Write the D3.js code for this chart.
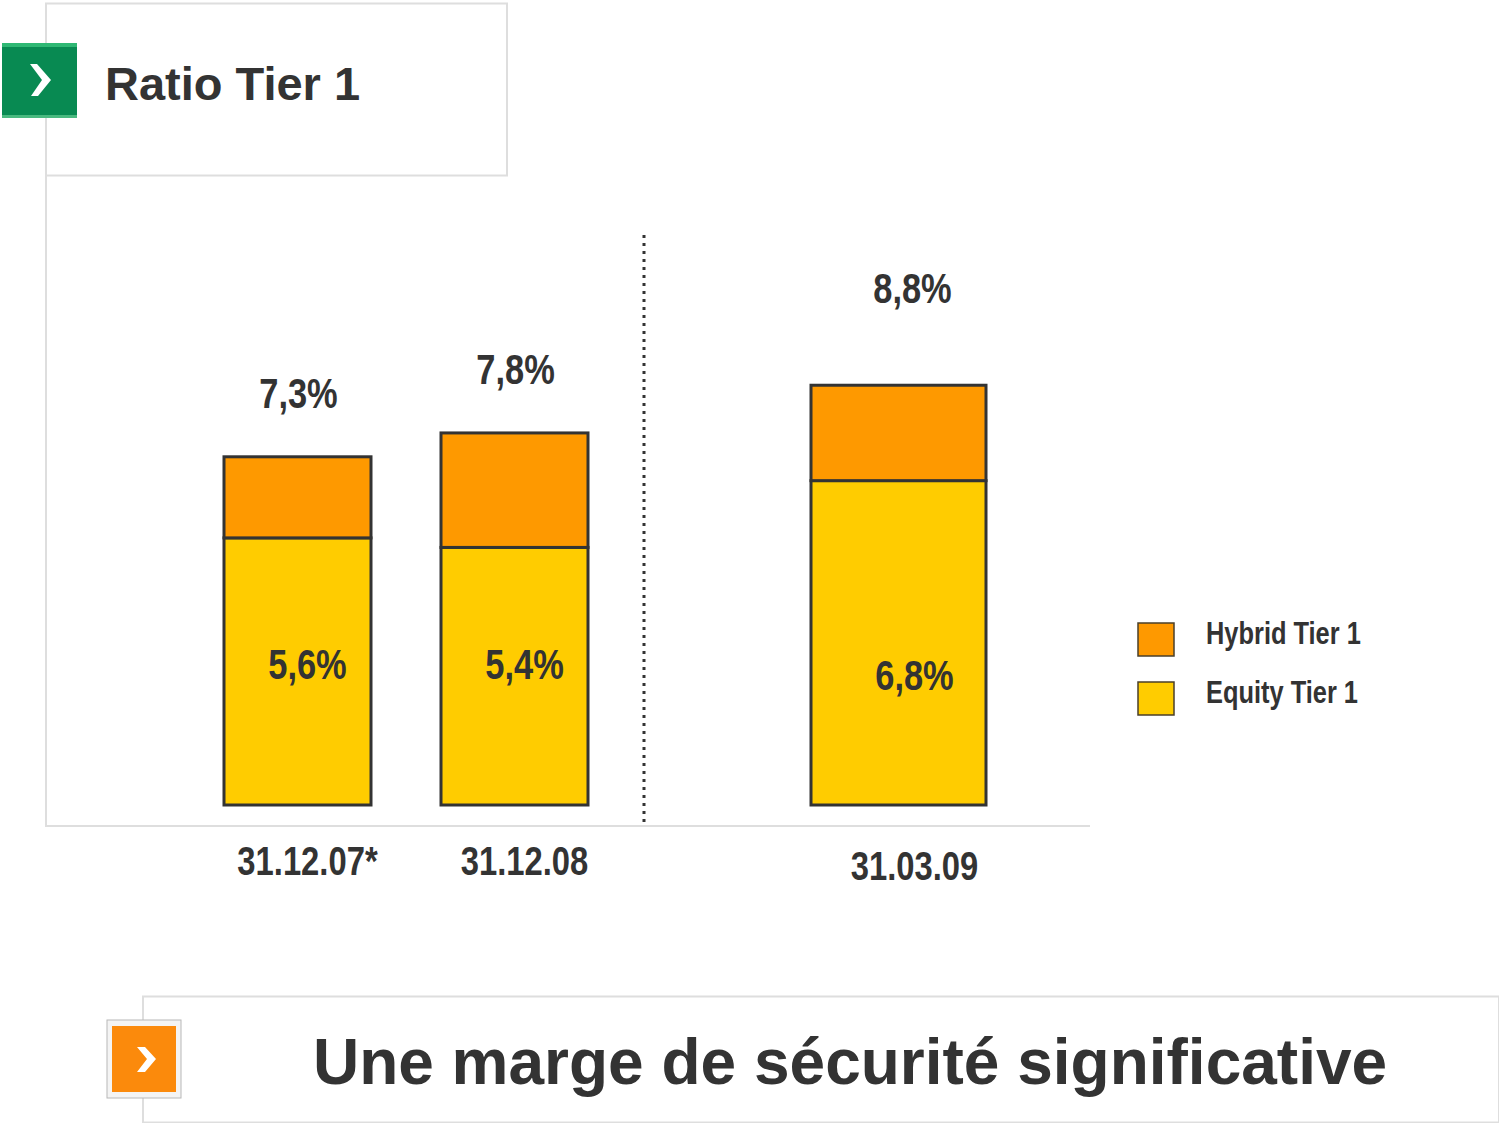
<!DOCTYPE html>
<html>
<head>
<meta charset="utf-8">
<script src="https://cdn.jsdelivr.net/npm/d3@7"></script>
<style>
  body { margin: 0; background: #fff; }
  svg { display: block; }
  .narrow { font-family: "Liberation Sans", Arial, sans-serif; font-weight: bold; fill: #333; }
  .wide { font-family: "Liberation Sans", Arial, sans-serif; font-weight: bold; fill: #333; }
</style>
</head>
<body>
<svg width="1499" height="1123"></svg>
<script>
'use strict';

// data
const leftDates = ["31.12.07*", "31.12.08"];
const rightDates = ["31.03.09"];
const equity = [5.6, 5.4, 6.8];
const hybrid = [1.7, 2.4, 2.0];
const totalLabels = ["7,3%", "7,8%", "8,8%"];
const equityLabels = ["5,6%", "5,4%", "6,8%"];
const seriesNames = ["Hybrid Tier 1", "Equity Tier 1"];

const colors = { hybrid: "#FE9900", equity: "#FFCC00" };
const squeeze = 0.82; // no Arial Narrow installed, squeeze Liberation Sans

const svg = d3.select("svg");

// y scale: 0..10 %
const y = d3.scaleLinear().domain([0, 10]).range([805, 328]);

const xLeft = d3.scaleBand().domain(leftDates).range([224, 588]).paddingInner(0.3226).paddingOuter(0);
const xRight = d3.scaleBand().domain(rightDates).range([811, 986]).padding(0);

const bars = leftDates.map((d, i) => ({ date: d, x: xLeft(d), w: xLeft.bandwidth(), i }))
   .concat(rightDates.map((d, j) => ({ date: d, x: xRight(d), w: xRight.bandwidth(), i: j + 2 })));

// frame lines
svg.append("rect")
   .attr("x", 46).attr("y", 3.5).attr("width", 461).attr("height", 172)
   .style("fill", "none").style("stroke", "#dedede").style("stroke-width", 2);

svg.append("line")
   .attr("x1", 46).attr("x2", 46).attr("y1", 176).attr("y2", 826)
   .style("stroke", "#dedede").style("stroke-width", 2);

svg.append("line")
   .attr("x1", 45).attr("x2", 1090).attr("y1", 826).attr("y2", 826)
   .style("stroke", "#dedede").style("stroke-width", 2);

// title icon (green)
const gIcon = svg.append("g").attr("transform", "translate(2,43)");
gIcon.append("rect").attr("width", 75).attr("height", 75).style("fill", "#088a52");
gIcon.append("rect").attr("width", 75).attr("height", 4).style("fill", "#2fb874");
gIcon.append("rect").attr("y", 72).attr("width", 75).attr("height", 3).style("fill", "#49b97f");
gIcon.append("path")
   .attr("d", "M28,21 L35,21 L49,37 L36,53 L29,53 L40,37 Z")
   .style("fill", "#fff");

svg.append("text")
   .attr("class", "wide")
   .attr("x", 105).attr("y", 100)
   .style("font-size", "47px")
   .text("Ratio Tier 1");

// dotted separator
svg.append("line")
   .attr("x1", 644).attr("x2", 644).attr("y1", 235).attr("y2", 826)
   .style("stroke", "#333").style("stroke-width", 3)
   .style("stroke-dasharray", "3,5");

// bars
const barG = svg.append("g").selectAll("g")
   .data(bars)
   .enter()
   .append("g");

barG.append("rect")
   .attr("x", d => d.x)
   .attr("width", d => d.w)
   .attr("y", d => y(equity[d.i]))
   .attr("height", d => y(0) - y(equity[d.i]))
   .style("fill", colors.equity)
   .style("stroke", "#333")
   .style("stroke-width", 3);

barG.append("rect")
   .attr("x", d => d.x)
   .attr("width", d => d.w)
   .attr("y", d => y(equity[d.i] + hybrid[d.i]))
   .attr("height", d => y(equity[d.i]) - y(equity[d.i] + hybrid[d.i]))
   .style("fill", colors.hybrid)
   .style("stroke", "#333")
   .style("stroke-width", 3);

function narrow(sel, fx, fy) {
   sel.attr("class", "narrow")
      .attr("transform", (d, i) => `translate(${fx(d, i)},${fy(d, i)}) scale(${squeeze},1)`)
}

barG.append("text")
   .call(narrow, d => d.x + d.w / 2 + (d.i == 2 ? 14 : 1), d => y(equity[d.i] + hybrid[d.i]) - (d.i == 2 ? 82 : 49))
   .style("text-anchor", "middle")
   .style("font-size", "42px")
   .text(d => totalLabels[d.i]);

barG.append("text")
   .call(narrow, d => d.x + d.w / 2 + (d.i == 2 ? 16 : 10), d => d.i == 2 ? 690 : 679)
   .style("text-anchor", "middle")
   .style("font-size", "42px")
   .text(d => equityLabels[d.i]);

barG.append("text")
   .call(narrow, d => d.x + d.w / 2 + (d.i == 2 ? 16 : 10), d => d.i == 2 ? 880 : 875)
   .style("text-anchor", "middle")
   .style("font-size", "40px")
   .text(d => d.date);

// legend
const legend = svg.append("g").attr("transform", "translate(1138,623)")
   .selectAll("g")
   .data(seriesNames)
   .enter()
   .append("g")
   .attr("transform", (d, i) => `translate(0,${i * 59})`);

legend.append("rect")
   .attr("width", 36).attr("height", 33)
   .style("fill", (d, i) => i == 0 ? colors.hybrid : colors.equity)
   .style("stroke", "#4a3f2a").style("stroke-width", 1.5);

legend.append("text")
   .call(narrow, () => 68, () => 21)
   .style("font-size", "31px")
   .text(d => d);

// bottom banner
svg.append("rect")
   .attr("x", 143).attr("y", 996.5).attr("width", 1356).attr("height", 126)
   .style("fill", "none").style("stroke", "#dedede").style("stroke-width", 2);

const gIcon2 = svg.append("g").attr("transform", "translate(107,1020)");
gIcon2.append("rect").attr("width", 74).attr("height", 78)
   .style("fill", "#f4f4f4").style("stroke", "#b8b8b8").style("stroke-width", 1);
gIcon2.append("rect").attr("x", 5).attr("y", 6).attr("width", 64).attr("height", 66).style("fill", "#fb8a0c");
gIcon2.append("path")
   .attr("d", "M30,27 L38,27 L49,39 L38,52 L30,52 L40,39 Z")
   .style("fill", "#fff");

svg.append("text")
   .attr("class", "wide")
   .attr("x", 850).attr("y", 1084)
   .style("text-anchor", "middle")
   .style("font-size", "64px")
   .text("Une marge de sécurité significative");
</script>
</body>
</html>
